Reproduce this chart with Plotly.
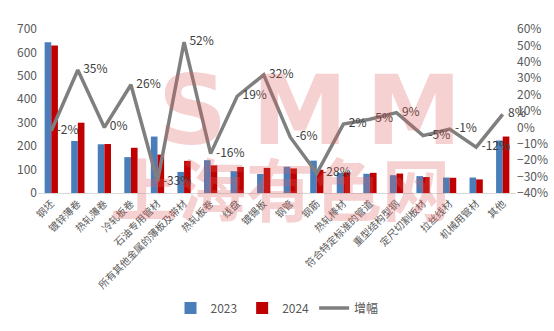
import plotly.graph_objects as go

categories = ["钢坯", "镀锌薄卷", "热轧薄卷", "冷轧板卷", "石油专用管材",
              "所有其他金属的薄板及带材", "热轧板卷", "线盘", "镀锡板", "钢管",
              "钢筋", "热轧棒材", "符合特定标准的管道", "重型结构型钢",
              "定尺切割板材", "拉丝线材", "机械用管材", "其他"]
values_2023 = [643, 222, 208, 153, 241, 90, 140, 93, 81, 112, 138, 86, 82, 76, 72, 66, 66, 224]
values_2024 = [630, 300, 209, 193, 164, 137, 118, 111, 107, 105, 99, 88, 86, 83, 68, 65, 58, 241]
growth_pct = [-2, 35, 0, 26, -33, 52, -16, 19, 32, -6, -28, 2, 5, 9, -5, -1, -12, 8]

TXT = "#595959"

fig = go.Figure()
fig.add_trace(go.Bar(name="2023", x=categories, y=values_2023,
                     marker=dict(color="#4A7EBB", line=dict(width=0))))
fig.add_trace(go.Bar(name="2024", x=categories, y=values_2024,
                     marker=dict(color="#C00000", line=dict(width=0))))
fig.add_trace(go.Scatter(name="增幅", x=categories, y=growth_pct, yaxis="y2",
                         mode="lines+text", cliponaxis=False,
                         line=dict(color="#7F7F7F", width=3.5),
                         text=[f"  {v}%" for v in growth_pct],
                         textposition="middle right",
                         textfont=dict(size=12, color="#404040")))

# semi-transparent brand watermark
wm = "rgba(222,90,90,0.28)"
for letter, xc in [("S", 192), ("M", 300), ("M", 414)]:
    fig.add_annotation(text=letter, xref="paper", yref="paper",
                       x=(xc - 38) / 478, y=(193 - 111) / 164,
                       xanchor="center", yanchor="middle", showarrow=False,
                       font=dict(size=96, color=wm, family="DejaVu Sans", weight=900))
fig.add_annotation(text="<b>上海有色网</b>", xref="paper", yref="paper",
                   x=(280 - 38) / 478, y=(193 - 186) / 164,
                   xanchor="center", yanchor="middle", showarrow=False,
                   font=dict(size=68, color=wm, family="Noto Sans CJK SC"))

fig.update_layout(
    width=554, height=331,
    margin=dict(l=38, r=38, t=29, b=138),
    paper_bgcolor="white", plot_bgcolor="white",
    barmode="group", bargap=0.5, bargroupgap=0,
    font=dict(family="Noto Sans CJK SC, Liberation Sans", color=TXT, size=12),
    showlegend=True,
    legend=dict(orientation="h", x=0.5, xanchor="center",
                yref="container", y=0.113, yanchor="top",
                font=dict(size=12, color=TXT), itemwidth=30),
    xaxis=dict(tickangle=-45, tickfont=dict(size=10, color=TXT), automargin=False,
               range=[-0.5, len(categories) - 0.5],
               showline=True, linecolor="#D9D9D9", linewidth=1,
               showgrid=False, ticks=""),
    yaxis=dict(range=[0, 700], dtick=100, showgrid=False, zeroline=False,
               automargin=False, tickfont=dict(size=12, color=TXT), ticks=""),
    yaxis2=dict(range=[-40, 60], dtick=10, overlaying="y", side="right",
                showgrid=False, zeroline=False, ticksuffix="%", automargin=False,
                tickfont=dict(size=12, color=TXT), ticks=""),
)

fig.write_html("out.html")
